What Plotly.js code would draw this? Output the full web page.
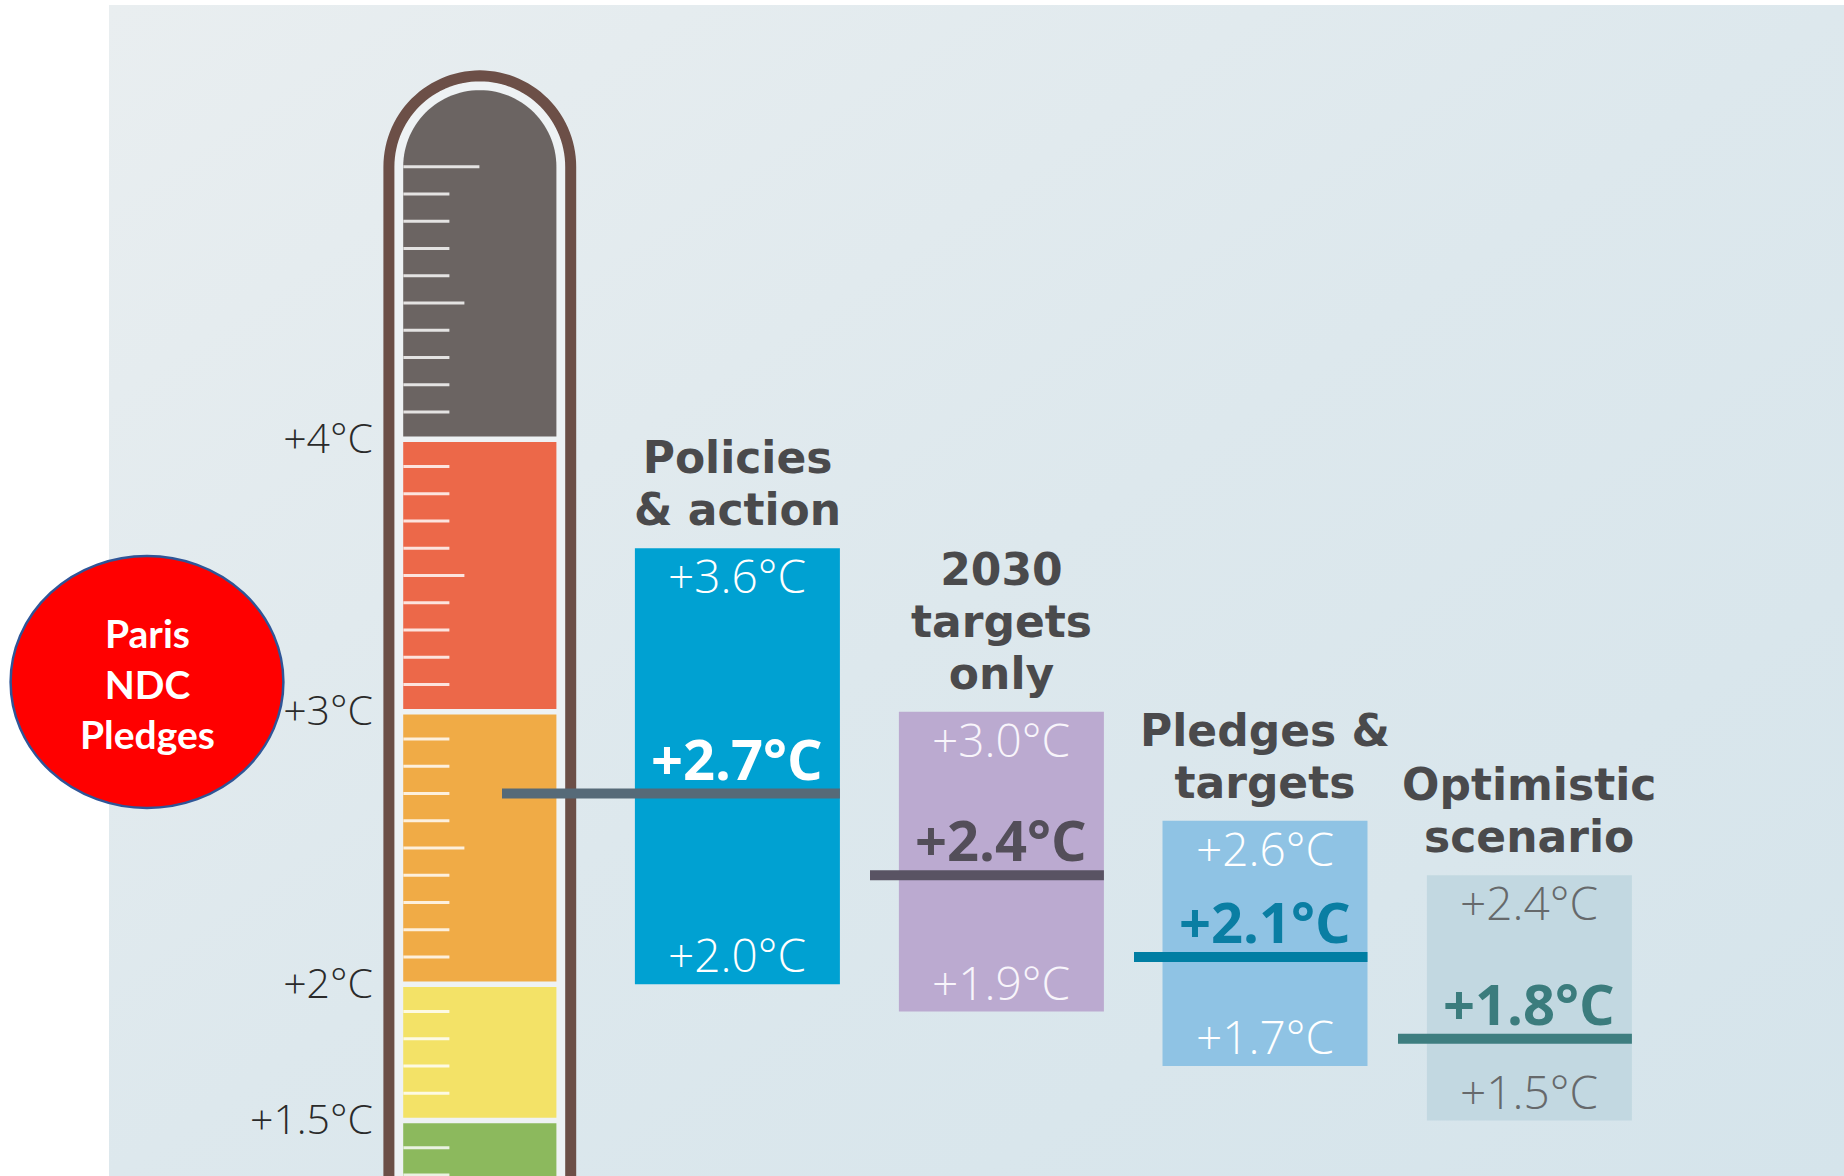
<!DOCTYPE html>
<html>
<head>
<meta charset="utf-8">
<script src="https://cdn.plot.ly/plotly-3.0.1.min.js"></script>
<style>html,body{margin:0;padding:0;background:#fff;}#chart{width:1844px;height:1176px;}</style>
</head>
<body>
<div id="chart"></div>
<script>
// ---------------- data ----------------
const scenarios = ['Policies & action', '2030 targets only', 'Pledges & targets', 'Optimistic scenario'];
const titleLines = [['Policies', '& action'], ['2030', 'targets', 'only'], ['Pledges &', 'targets'], ['Optimistic', 'scenario']];
const highs   = [3.6, 3.0, 2.6, 2.4];
const medians = [2.7, 2.4, 2.1, 1.8];
const lows    = [2.0, 1.9, 1.7, 1.5];

const thermoEdges  = [1.5, 2, 3, 4];
const thermoLabels = ['+1.5°C', '+2°C', '+3°C', '+4°C'];
const thermoTop = 5.0;
const badgeLines = ['Paris', 'NDC', 'Pledges'];

// ---------------- styles / layout constants ----------------
const W = 1844, H = 1176;
const Y_TOP = 5.612, Y_BOT = 1.2965;
const PX = H / (Y_TOP - Y_BOT);          // pixels per degree
const yPx = py => Y_TOP - py / PX;        // canvas px -> degree
const dY = px => px / PX;                 // px length -> degree length

const boxCenters = [737.4, 1001.4, 1265.0, 1529.4];
const boxW = 205;
const lineStarts = [502, 870, 1134, 1398];
const boxColors = ['#00a1d2', '#bbaad0', '#8fc3e4', '#c2d8e1'];
const rangeLabelColors = ['#ffffff', '#f8f5fb', '#ffffff', '#66696b'];
const medianLabelColors = ['#ffffff', '#534e59', '#0a7ea3', '#3b7c7d'];
const medianLineColors = ['#566a78', '#595363', '#007ea3', '#3e7e80'];
const bandColors = ['#8cb95d', '#f3e267', '#f0ab46', '#ec6849', '#6b6462'];
const titleColor = '#4a4a4c';

const fmt = v => '+' + v.toFixed(1) + '°C';

// thermometer geometry (px on x axis, degrees on y axis)
const tcx = 479.8, outerR = 90.9, innerR = 76.6, innerL = 403.4;
const gapDeg = dY(5.5);
const yBelow = Y_BOT - 0.3;

function tubePath(cx, r, yBase, yCenter) {
  const ry = dY(r);
  let p = `M ${cx - r},${yBase} L ${cx - r},${yCenter}`;
  const n = 60;
  for (let i = 1; i <= n; i++) {
    const t = Math.PI - Math.PI * i / n;
    p += ` L ${(cx + r * Math.cos(t)).toFixed(2)},${(yCenter + ry * Math.sin(t)).toFixed(5)}`;
  }
  p += ` L ${cx + r},${yBase}`;
  return p;
}

const shapes = [];
// outer tube
shapes.push({type: 'path', xref: 'x', yref: 'y', layer: 'below',
  path: tubePath(tcx, outerR, yBelow, thermoTop) + ' Z',
  fillcolor: '#eef2f4', line: {color: '#6c4f47', width: 11}});
// bands
const bandBounds = [yBelow].concat(thermoEdges);
for (let i = 0; i < bandBounds.length; i++) {
  const lo = i === 0 ? yBelow : bandBounds[i] + gapDeg / 2;
  if (i < bandBounds.length - 1) {
    const hi = bandBounds[i + 1] - gapDeg / 2;
    shapes.push({type: 'rect', xref: 'x', yref: 'y', layer: 'below',
      x0: tcx - innerR, x1: tcx + innerR, y0: lo, y1: hi,
      fillcolor: bandColors[i], line: {width: 0}});
  } else {
    shapes.push({type: 'path', xref: 'x', yref: 'y', layer: 'below',
      path: tubePath(tcx, innerR, lo, thermoTop) + ' Z',
      fillcolor: bandColors[i], line: {width: 0}});
  }
}
// scale ticks every 0.1 degree
for (let k = 13; k <= 50; k++) {
  const v = k / 10;
  if (thermoEdges.some(e => Math.abs(e - v) < 1e-6)) continue;
  let len = 46;
  if (k === 50) len = 76; else if (k % 10 === 5) len = 61;
  shapes.push({type: 'line', xref: 'x', yref: 'y', layer: 'below',
    x0: innerL, x1: innerL + len, y0: v, y1: v,
    line: {color: 'rgba(255,255,255,0.82)', width: 3}});
}
// Paris badge
shapes.push({type: 'circle', xref: 'x', yref: 'y', layer: 'below',
  x0: 10.6, x1: 283.4, y0: yPx(808), y1: yPx(556),
  fillcolor: '#ff0000', line: {color: '#2f5597', width: 2.5}});

// ---------------- traces ----------------
const traces = [];
traces.push({
  type: 'bar', x: boxCenters, y: highs.map((h, i) => h - lows[i]), base: lows,
  width: boxW, marker: {color: boxColors, line: {width: 0}},
  hoverinfo: 'skip', name: 'range'
});
scenarios.forEach((s, i) => {
  traces.push({
    type: 'scatter', mode: 'lines', name: s,
    x: [lineStarts[i], boxCenters[i] + boxW / 2], y: [medians[i], medians[i]],
    line: {color: medianLineColors[i], width: 10}, hoverinfo: 'skip'
  });
});

// ---------------- annotations ----------------
const ann = [];
const regFont = (c) => ({family: 'Open Sans, Ubuntu, sans-serif', size: 46, color: c, weight: 300});
scenarios.forEach((s, i) => {
  ann.push({x: boxCenters[i], y: highs[i], yshift: -27, text: fmt(highs[i]), showarrow: false,
    font: regFont(rangeLabelColors[i])});
  ann.push({x: boxCenters[i], y: lows[i], yshift: 30, text: fmt(lows[i]), showarrow: false,
    font: regFont(rangeLabelColors[i])});
  ann.push({x: boxCenters[i], y: medians[i], yshift: 36, text: fmt(medians[i]), showarrow: false,
    font: {family: 'Open Sans, sans-serif', size: 56, color: medianLabelColors[i], weight: 700}});
  // title: one text block, tight line spacing (base size sets the spacing, span sets glyph size)
  ann.push({x: boxCenters[i], y: highs[i], yanchor: 'bottom', yshift: 11,
    text: titleLines[i].map(t => '<span style="font-size:44px">' + t + '</span>').join('<br>'),
    showarrow: false, font: {family: 'DejaVu Sans, sans-serif', size: 40, color: titleColor, weight: 700}});
});
ann.push({x: 147, y: yPx(683), text: badgeLines.join('<br>'), showarrow: false,
  font: {family: 'Lato, sans-serif', size: 39, color: '#ffffff', weight: 700}});

// background gradient panel
const svg = "<svg xmlns='http://www.w3.org/2000/svg' width='100' height='100' viewBox='0 0 100 100' preserveAspectRatio='none'>" +
  "<defs><linearGradient id='g' x1='0' y1='0' x2='1' y2='1'>" +
  "<stop offset='0' stop-color='#e9eef0'/><stop offset='0.5' stop-color='#dde8ed'/><stop offset='1' stop-color='#d5e4eb'/>" +
  "</linearGradient></defs><rect width='100' height='100' fill='url(#g)'/></svg>";
const bgURI = 'data:image/svg+xml;charset=utf-8,' + encodeURIComponent(svg);

const layout = {
  width: W, height: H,
  margin: {l: 0, r: 0, t: 0, b: 0, pad: 0},
  paper_bgcolor: '#ffffff', plot_bgcolor: 'rgba(0,0,0,0)',
  showlegend: false,
  xaxis: {range: [0, W], visible: false, fixedrange: true},
  yaxis: {range: [Y_BOT, Y_TOP], anchor: 'free', position: 373 / W, side: 'left',
    tickvals: thermoEdges, ticktext: thermoLabels, ticks: '', showgrid: false,
    zeroline: false, showline: false, ticklabelshift: -1, fixedrange: true,
    tickfont: {family: 'Open Sans, sans-serif', size: 41, color: '#2a2a2a', weight: 300}},
  shapes: shapes,
  annotations: ann,
  images: [{source: bgURI, xref: 'paper', yref: 'paper', x: 109 / W, y: 1 - 5 / H,
    sizex: (W - 109) / W, sizey: (H - 5) / H, xanchor: 'left', yanchor: 'top',
    sizing: 'stretch', layer: 'below'}]
};

Plotly.newPlot('chart', traces, layout, {displayModeBar: false, staticPlot: true});
</script>
</body>
</html>
